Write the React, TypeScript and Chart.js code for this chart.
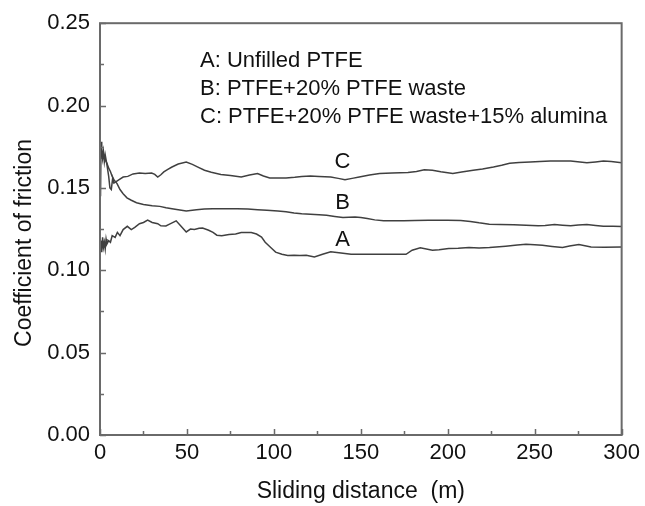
import { useEffect, useRef } from 'react';
import { Chart, registerables } from 'chart.js';

Chart.register(...registerables);

// ---- Data ----
const distA = [
  0, 0.5, 1, 1.5, 2, 2.5, 3, 3.5, 4, 5,
  6, 7, 8.7, 10, 11.5, 13.3, 15.7, 18, 20, 22.7,
  25, 27.4, 30, 33.2, 35, 37.9, 40, 43.8, 46.1, 49.6,
  52, 54.3, 57, 59, 62.5, 65, 67.2, 70, 74.2, 78,
  81.2, 84, 87, 90, 92.9, 95, 98.8, 101, 104.6, 108,
  111.6, 115, 118.6, 123.3, 128, 132.7, 137.4, 144.4, 150, 158.4,
  165, 170, 176, 179.5, 184.2, 191.2, 195, 200.5, 206, 212.2,
  218, 224, 233.3, 240, 245, 250, 254.4, 260, 266, 270,
  275.4, 282.4, 290, 300,
];
const frictionA = [
  0.112, 0.118, 0.111, 0.120, 0.114, 0.117, 0.113, 0.119, 0.116, 0.118,
  0.117, 0.121, 0.120, 0.123, 0.121, 0.1247, 0.1267, 0.1247, 0.126, 0.1283,
  0.129, 0.1304, 0.129, 0.1283, 0.127, 0.1269, 0.128, 0.130, 0.1273, 0.1233,
  0.125, 0.1247, 0.1255, 0.1257, 0.1243, 0.123, 0.1213, 0.121, 0.1217, 0.122,
  0.1229, 0.123, 0.1229, 0.122, 0.1202, 0.117, 0.1132, 0.111, 0.1097, 0.109,
  0.1091, 0.109, 0.1091, 0.1081, 0.1097, 0.1112, 0.1107, 0.1097, 0.1097, 0.1097,
  0.1097, 0.1097, 0.1097, 0.1122, 0.1136, 0.1122, 0.1125, 0.1132, 0.1133, 0.1138,
  0.1136, 0.1138, 0.1146, 0.1153, 0.1158, 0.1155, 0.1152, 0.1145, 0.1138, 0.1147,
  0.1156, 0.1142, 0.1140, 0.1142,
];

const distB = [
  0, 0.5, 1, 2, 3, 4, 5, 6, 7, 8,
  9.8, 11.5, 13.3, 15.5, 18, 21, 25, 30, 34.4, 38,
  41.4, 45, 49.6, 55.5, 60, 64.8, 70, 78.9, 85, 90.6,
  96, 102.3, 107, 111.6, 116, 121, 126, 130.3, 135, 139.7,
  143, 146.7, 150, 153.7, 158, 163.1, 168, 174.8, 181, 188.8,
  195, 200, 207.5, 213, 218, 223.9, 230, 238, 245, 252,
  256, 261.4, 266, 270.7, 275, 280, 285, 289.5, 295, 300,
];
const frictionB = [
  0.168, 0.175, 0.172, 0.170, 0.167, 0.165, 0.162, 0.160, 0.157, 0.155,
  0.1526, 0.149, 0.1465, 0.144, 0.1425, 0.141, 0.140, 0.1392, 0.1388, 0.138,
  0.1374, 0.1368, 0.136, 0.1368, 0.1372, 0.1374, 0.1374, 0.1374, 0.1372, 0.1368,
  0.1364, 0.136, 0.1355, 0.1348, 0.1343, 0.134, 0.1337, 0.1334, 0.1327, 0.132,
  0.1322, 0.1324, 0.132, 0.1314, 0.1306, 0.130, 0.130, 0.130, 0.1302, 0.1304,
  0.1303, 0.1303, 0.1302, 0.1296, 0.1288, 0.128, 0.1278, 0.1276, 0.1274, 0.127,
  0.1272, 0.1278, 0.1274, 0.127, 0.1275, 0.1278, 0.1272, 0.1267, 0.1267, 0.1266,
];

const distC = [
  0, 0.3, 0.6, 1, 1.5, 2, 2.5, 3, 4, 5,
  5.7, 6.5, 7.3, 8, 9.5, 11, 13.3, 16, 19, 22.7,
  26, 29.7, 31.5, 33.2, 35, 36.7, 39, 41.4, 45, 49.6,
  53.1, 56, 60.1, 64, 69.5, 75, 81.2, 86, 90.6, 94,
  97.6, 102, 107, 112, 116, 121, 126, 132.7, 137, 140.9,
  145, 149.1, 155, 160.8, 168, 177.1, 182, 186.5, 191.2, 196,
  202.9, 208, 214.6, 220, 226.3, 231, 235.6, 241, 247.4, 253,
  259, 265, 270.7, 276, 280, 285, 289.5, 294, 300,
];
const frictionC = [
  0.170, 0.145, 0.178, 0.174, 0.168, 0.172, 0.166, 0.170, 0.164, 0.157,
  0.150, 0.149, 0.156, 0.153, 0.154, 0.155, 0.1566, 0.157, 0.1585, 0.159,
  0.1588, 0.159, 0.1582, 0.1566, 0.158, 0.1597, 0.1612, 0.1627, 0.1645, 0.1657,
  0.1643, 0.1628, 0.1607, 0.1595, 0.1582, 0.1575, 0.1566, 0.1578, 0.1587, 0.1572,
  0.156, 0.156, 0.156, 0.1565, 0.157, 0.1572, 0.157, 0.1566, 0.1558, 0.155,
  0.1558, 0.1566, 0.1578, 0.1587, 0.159, 0.1593, 0.160, 0.161, 0.1607, 0.1598,
  0.1587, 0.1597, 0.1607, 0.1615, 0.1627, 0.1638, 0.165, 0.1655, 0.1657, 0.166,
  0.1663, 0.1664, 0.1663, 0.1657, 0.1653, 0.1658, 0.1663, 0.166, 0.1653,
];

const seriesNames = ['A', 'B', 'C'];
const legendLines = [
  'A: Unfilled PTFE',
  'B: PTFE+20% PTFE waste',
  'C: PTFE+20% PTFE waste+15% alumina',
];
// where each curve's letter sits, in data units
const curveLabelX = [139.5, 139.5, 139.5];
const curveLabelY = [0.1187, 0.141, 0.1656];

const xMin = 0;
const xMax = 300;
const xStep = 50;
const yMin = 0;
const yMax = 0.25;
const yStep = 0.05;
const xTitle = 'Sliding distance  (m)';
const yTitle = 'Coefficient of friction';

const FONT = '"Liberation Sans", Arial, Helvetica, sans-serif';
const TEXT = '#111111';
const LINE = '#404040';
const AXIS = '#6a6a6a';

function zip(xs: number[], ys: number[]) {
  return xs.map((x, i) => ({ x, y: ys[i] }));
}

const framePlugin = {
  id: 'frame',
  afterDraw(chart: any) {
    const { ctx, chartArea: a, scales } = chart;
    const xs = scales.x;
    const ys = scales.y;
    ctx.save();
    // box
    ctx.strokeStyle = AXIS;
    ctx.lineWidth = 2;
    ctx.strokeRect(a.left, a.top, a.right - a.left, a.bottom - a.top);
    // inward ticks on left and bottom axes
    ctx.lineWidth = 1.5;
    ctx.beginPath();
    const ySub = yStep / 2;
    for (let i = 0; i <= Math.round((yMax - yMin) / ySub); i++) {
      const v = yMin + i * ySub;
      const p = Math.round(ys.getPixelForValue(v)) + 0.5;
      const len = i % 2 === 0 ? 6 : 4;
      ctx.moveTo(a.left, p);
      ctx.lineTo(a.left + len, p);
    }
    const xSub = xStep / 2;
    for (let i = 0; i <= Math.round((xMax - xMin) / xSub); i++) {
      const v = xMin + i * xSub;
      const p = Math.round(xs.getPixelForValue(v)) + 0.5;
      const len = i % 2 === 0 ? 6 : 4;
      ctx.moveTo(p, a.bottom);
      ctx.lineTo(p, a.bottom - len);
    }
    ctx.stroke();

    ctx.fillStyle = TEXT;
    // legend text block
    ctx.font = `22px ${FONT}`;
    ctx.textAlign = 'left';
    ctx.textBaseline = 'alphabetic';
    legendLines.forEach((t, i) => {
      ctx.fillText(t, a.left + 100, a.top + 44 + i * 28);
    });
    // curve letters
    ctx.textAlign = 'center';
    ctx.textBaseline = 'middle';
    seriesNames.forEach((n, i) => {
      ctx.fillText(n, xs.getPixelForValue(curveLabelX[i]), ys.getPixelForValue(curveLabelY[i]));
    });
    // axis titles
    ctx.font = `23px ${FONT}`;
    ctx.textAlign = 'center';
    ctx.textBaseline = 'alphabetic';
    ctx.fillText(xTitle, (a.left + a.right) / 2, 498);
    ctx.save();
    ctx.translate(31, 243);
    ctx.rotate(-Math.PI / 2);
    ctx.fillText(yTitle, 0, 0);
    ctx.restore();
    ctx.restore();
  },
};

export default function App() {
  const ref = useRef<HTMLCanvasElement | null>(null);

  useEffect(() => {
    document.body.style.margin = '0';
    const canvas = ref.current;
    if (!canvas) return;
    const datasets = [
      zip(distA, frictionA),
      zip(distB, frictionB),
      zip(distC, frictionC),
    ].map((data, i) => ({
      label: seriesNames[i],
      data,
      borderColor: LINE,
      borderWidth: 1.5,
      pointRadius: 0,
      tension: 0,
      fill: false,
    }));

    const chart = new Chart(canvas, {
      type: 'line',
      data: { datasets },
      options: {
        animation: false,
        responsive: false,
        devicePixelRatio: 1,
        layout: { padding: { top: 21, right: 18, left: 0, bottom: 0 } },
        plugins: {
          legend: { display: false },
          tooltip: { enabled: false },
        },
        scales: {
          x: {
            type: 'linear',
            min: xMin,
            max: xMax,
            grid: { display: false, drawTicks: false },
            border: { display: false },
            ticks: {
              stepSize: xStep,
              padding: 5,
              color: TEXT,
              font: { family: FONT, size: 22 },
              maxRotation: 0,
            },
            afterFit: (s: any) => {
              s.height = 71;
            },
          },
          y: {
            type: 'linear',
            min: yMin,
            max: yMax,
            grid: { display: false, drawTicks: false },
            border: { display: false },
            ticks: {
              stepSize: yStep,
              padding: 10,
              color: TEXT,
              font: { family: FONT, size: 22 },
              callback: (v: any) => Number(v).toFixed(2),
            },
            afterFit: (s: any) => {
              s.width = 100;
            },
          },
        },
      },
      plugins: [framePlugin],
    });
    return () => chart.destroy();
  }, []);

  return (
    <div style={{ width: 645, height: 506, background: '#fff' }}>
      <canvas ref={ref} width={645} height={506} />
    </div>
  );
}
